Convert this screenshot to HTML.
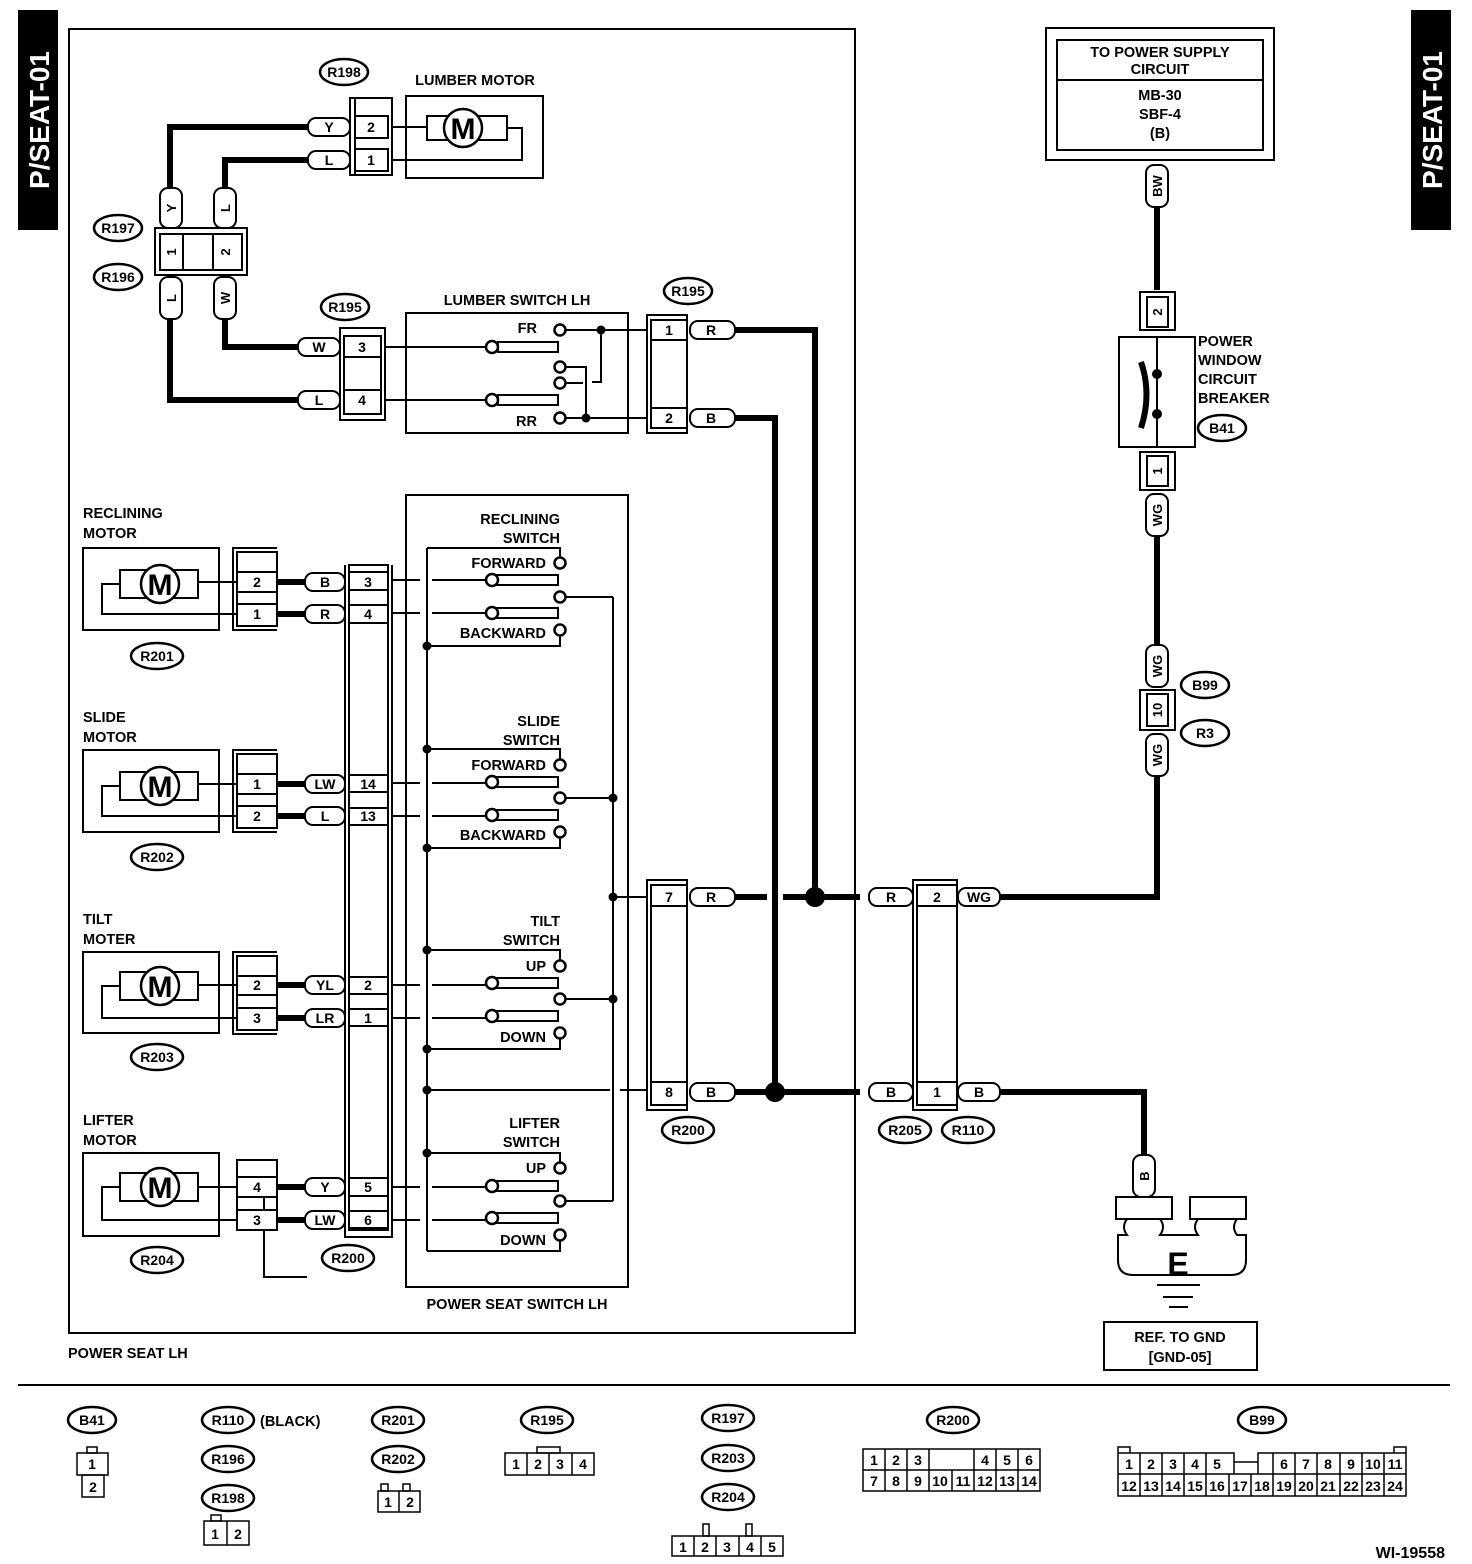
<!DOCTYPE html>
<html><head><meta charset="utf-8"><style>
html,body{margin:0;padding:0;background:#fff}
svg{display:block}
text{font-family:"Liberation Sans",Arial,sans-serif;font-weight:bold;fill:#000}
</style></head><body>
<svg width="1472" height="1564" viewBox="0 0 1472 1564" xmlns="http://www.w3.org/2000/svg">
<g fill="none" stroke="#000" stroke-width="2">
<rect x="69" y="29" width="786" height="1304"/>
<line x1="18" y1="1385" x2="1450" y2="1385"/>
<rect x="1046" y="28" width="228" height="132"/>
<rect x="1057" y="40" width="206" height="110"/>
<line x1="1057" y1="80" x2="1263" y2="80"/>
<rect x="406" y="96" width="137" height="82"/>
<rect x="427" y="116" width="80" height="24"/>
<circle cx="463" cy="128" r="19" fill="#fff" stroke-width="2.5"/>
<polyline points="392,127 427,127"/>
<polyline points="507,128 522,128 522,160 392,160"/>
<rect x="350" y="98" width="42" height="77"/>
<line x1="355" y1="98" x2="355" y2="175"/>
<rect x="355" y="116" width="33" height="22"/>
<rect x="355" y="149" width="33" height="22"/>
<rect x="155" y="228" width="92" height="47"/>
<rect x="160" y="234" width="82" height="36"/>
<line x1="183" y1="234" x2="183" y2="270"/><line x1="213" y1="234" x2="213" y2="270"/>
<rect x="340" y="328" width="45" height="92"/>
<rect x="344" y="336" width="37" height="78"/>
<line x1="344" y1="357" x2="381" y2="357"/><line x1="344" y1="390" x2="381" y2="390"/>
<rect x="406" y="313" width="222" height="120"/>
<line x1="385" y1="347" x2="487" y2="347"/>
<line x1="385" y1="400" x2="487" y2="400"/>
<rect x="498" y="342" width="60" height="10"/>
<rect x="498" y="395" width="60" height="10"/>
<polyline points="565,330 647,330"/>
<polyline points="565,418 647,418"/>
<polyline points="601,330 601,382 592,382"/>
<polyline points="565,383 583,383"/>
<polyline points="565,367 586,367 586,418"/>
<rect x="647" y="315" width="40" height="118"/>
<rect x="651" y="320" width="36" height="108"/>
<line x1="651" y1="340" x2="687" y2="340"/><line x1="651" y1="408" x2="687" y2="408"/>
<rect x="406" y="495" width="222" height="792"/>
<line x1="427" y1="548" x2="427" y2="1251"/>
<line x1="613" y1="597" x2="613" y2="1201"/>
<line x1="427" y1="1090" x2="610" y2="1090"/><line x1="620" y1="1090" x2="647" y2="1090"/>
<line x1="613" y1="897" x2="647" y2="897"/>
<rect x="349" y="565" width="39" height="665"/>
<polyline points="345,565 345,1237 392,1237 392,565"/>
<path d="M349,572h39M349,590h39M349,605h39M349,623h39M349,775h39M349,792h39M349,808h39M349,825h39M349,977h39M349,994h39M349,1009h39M349,1026h39M349,1178h39M349,1196h39M349,1211h39M349,1228h39"/>
<rect x="647" y="880" width="40" height="230"/>
<rect x="651" y="885" width="36" height="220"/>
<line x1="651" y1="906" x2="687" y2="906"/><line x1="651" y1="1082" x2="687" y2="1082"/>
<rect x="913" y="880" width="44" height="230"/>
<rect x="917" y="885" width="40" height="220"/>
<line x1="917" y1="906" x2="957" y2="906"/><line x1="917" y1="1082" x2="957" y2="1082"/>
<rect x="83" y="548" width="136" height="82"/>
<rect x="83" y="750" width="136" height="82"/>
<rect x="83" y="952" width="136" height="81"/>
<rect x="83" y="1153" width="136" height="83"/>
<rect x="120" y="570" width="78" height="28"/><rect x="120" y="772" width="78" height="28"/>
<rect x="120" y="972" width="78" height="28"/><rect x="120" y="1173" width="78" height="28"/>
<polyline points="198,582 237,582"/><polyline points="120,584 102,584 102,614 237,614"/>
<polyline points="198,784 237,784"/><polyline points="120,786 102,786 102,816 237,816"/>
<polyline points="198,985 237,985"/><polyline points="120,986 102,986 102,1018 237,1018"/>
<polyline points="198,1187 237,1187"/><polyline points="120,1187 102,1187 102,1220 237,1220"/>
<circle cx="160" cy="584" r="19" fill="#fff" stroke-width="2.5"/>
<circle cx="160" cy="786" r="19" fill="#fff" stroke-width="2.5"/>
<circle cx="160" cy="986" r="19" fill="#fff" stroke-width="2.5"/>
<circle cx="160" cy="1187" r="19" fill="#fff" stroke-width="2.5"/>
<polyline points="277,548 233,548 233,630 277,630"/><rect x="237" y="552" width="40" height="74"/>
<line x1="237" y1="572" x2="277" y2="572"/><line x1="237" y1="592" x2="277" y2="592"/><line x1="237" y1="604" x2="277" y2="604"/>
<polyline points="277,750 233,750 233,832 277,832"/><rect x="237" y="754" width="40" height="74"/>
<line x1="237" y1="774" x2="277" y2="774"/><line x1="237" y1="794" x2="277" y2="794"/><line x1="237" y1="806" x2="277" y2="806"/>
<polyline points="277,952 233,952 233,1034 277,1034"/><rect x="237" y="956" width="40" height="74"/>
<line x1="237" y1="976" x2="277" y2="976"/><line x1="237" y1="995" x2="277" y2="995"/><line x1="237" y1="1008" x2="277" y2="1008"/>
<rect x="237" y="1160" width="40" height="70"/>
<line x1="237" y1="1177" x2="277" y2="1177"/><line x1="237" y1="1197" x2="277" y2="1197"/><line x1="237" y1="1210" x2="277" y2="1210"/>
<line x1="264" y1="1197" x2="264" y2="1210"/>
<polyline points="264,1230 264,1277 307,1277"/>
<rect x="1140" y="292" width="35" height="38"/><rect x="1147" y="297" width="21" height="30"/>
<rect x="1119" y="337" width="76" height="110"/>
<line x1="1157" y1="337" x2="1157" y2="447"/>
<rect x="1140" y="452" width="35" height="38"/><rect x="1147" y="456" width="21" height="30"/>
<rect x="1140" y="690" width="35" height="40" fill="#fff"/><rect x="1147" y="694" width="21" height="32"/>
<rect x="1116" y="1197" width="56" height="22"/>
<rect x="1190" y="1197" width="56" height="22"/>
<path d="M1127,1219 q-6,8 0,16 l-9,0 0,25 q0,15 15,15 l98,0 q15,0 15,-15 l0,-25 -9,0 q-6,-8 0,-16 M1160,1219 q6,8 0,16 l38,0 q-6,-8 0,-16"/>
<line x1="1157" y1="1285" x2="1200" y2="1285"/>
<line x1="1163" y1="1297" x2="1193" y2="1297"/>
<line x1="1169" y1="1307" x2="1188" y2="1307"/>
<rect x="1104" y="1322" width="153" height="48"/>
</g>
<g fill="none" stroke="#000" stroke-width="6">
<polyline points="308,127 170,127 170,190"/>
<polyline points="308,160 225,160 225,190"/>
<polyline points="298,347 225,347 225,318"/>
<polyline points="298,400 170,400 170,318"/>
<polyline points="735,330 815,330 815,897"/>
<polyline points="735,418 775,418 775,1092"/>
<line x1="735" y1="897" x2="767" y2="897"/>
<line x1="783" y1="897" x2="860" y2="897"/>
<line x1="735" y1="1092" x2="860" y2="1092"/>
<polyline points="998,897 1157,897 1157,772"/>
<line x1="1157" y1="650" x2="1157" y2="530"/>
<line x1="1157" y1="290" x2="1157" y2="200"/>
<polyline points="998,1092 1144,1092 1144,1160"/>
<line x1="277" y1="582" x2="308" y2="582"/><line x1="277" y1="614" x2="308" y2="614"/>
<line x1="277" y1="784" x2="308" y2="784"/><line x1="277" y1="816" x2="308" y2="816"/>
<line x1="277" y1="985" x2="308" y2="985"/><line x1="277" y1="1018" x2="308" y2="1018"/>
<line x1="277" y1="1187" x2="308" y2="1187"/><line x1="277" y1="1220" x2="308" y2="1220"/>
</g>
<line x1="855" y1="880" x2="855" y2="1110" stroke="#000" stroke-width="2"/>
<g fill="#000"><circle cx="815" cy="897" r="10"/><circle cx="775" cy="1092" r="10"/></g>
<path d="M1141,362 Q1152,394 1141,428" fill="none" stroke="#000" stroke-width="6"/>
<circle cx="1157" cy="374" r="5"/><circle cx="1157" cy="414" r="5"/>
<g fill="none" stroke="#000" stroke-width="2">
<polyline points="427,548 560,548 560,558"/><polyline points="560,635 560,646 427,646"/>
<line x1="392" y1="580" x2="420" y2="580"/><line x1="432" y1="580" x2="487" y2="580"/>
<line x1="392" y1="613" x2="420" y2="613"/><line x1="432" y1="613" x2="487" y2="613"/>
<rect x="497" y="575" width="61" height="10"/><rect x="497" y="608" width="61" height="10"/>
<polyline points="565,597 613,597"/>
<polyline points="427,749 560,749 560,760"/><polyline points="560,837 560,848 427,848"/>
<line x1="392" y1="783" x2="420" y2="783"/><line x1="432" y1="783" x2="487" y2="783"/>
<line x1="392" y1="816" x2="420" y2="816"/><line x1="432" y1="816" x2="487" y2="816"/>
<rect x="497" y="777" width="61" height="10"/><rect x="497" y="810" width="61" height="10"/>
<polyline points="565,798 613,798"/>
<polyline points="427,950 560,950 560,961"/><polyline points="560,1038 560,1049 427,1049"/>
<line x1="392" y1="985" x2="420" y2="985"/><line x1="432" y1="985" x2="487" y2="985"/>
<line x1="392" y1="1018" x2="420" y2="1018"/><line x1="432" y1="1018" x2="487" y2="1018"/>
<rect x="497" y="978" width="61" height="10"/><rect x="497" y="1011" width="61" height="10"/>
<polyline points="565,999 613,999"/>
<polyline points="427,1153 560,1153 560,1163"/><polyline points="560,1240 560,1251 427,1251"/>
<line x1="392" y1="1187" x2="420" y2="1187"/><line x1="432" y1="1187" x2="487" y2="1187"/>
<line x1="392" y1="1220" x2="420" y2="1220"/><line x1="432" y1="1220" x2="487" y2="1220"/>
<rect x="497" y="1181" width="61" height="10"/><rect x="497" y="1213" width="61" height="10"/>
<polyline points="565,1201 613,1201"/>
</g>
<g fill="#fff" stroke="#000" stroke-width="2.5">
<circle cx="560" cy="330" r="5.5"/><circle cx="560" cy="367" r="5.5"/><circle cx="560" cy="383" r="5.5"/><circle cx="560" cy="418" r="5.5"/>
<circle cx="492" cy="347" r="6"/><circle cx="492" cy="400" r="6"/>
<circle cx="560" cy="563" r="5.5"/><circle cx="560" cy="597" r="5.5"/><circle cx="560" cy="630" r="5.5"/><circle cx="492" cy="580" r="6"/><circle cx="492" cy="613" r="6"/>
<circle cx="560" cy="765" r="5.5"/><circle cx="560" cy="798" r="5.5"/><circle cx="560" cy="832" r="5.5"/><circle cx="492" cy="782" r="6"/><circle cx="492" cy="815" r="6"/>
<circle cx="560" cy="966" r="5.5"/><circle cx="560" cy="999" r="5.5"/><circle cx="560" cy="1033" r="5.5"/><circle cx="492" cy="983" r="6"/><circle cx="492" cy="1016" r="6"/>
<circle cx="560" cy="1168" r="5.5"/><circle cx="560" cy="1201" r="5.5"/><circle cx="560" cy="1235" r="5.5"/><circle cx="492" cy="1186" r="6"/><circle cx="492" cy="1218" r="6"/>
</g>
<g fill="#000">
<circle cx="601" cy="330" r="4.5"/><circle cx="586" cy="418" r="4.5"/>
<circle cx="427" cy="646" r="4.5"/><circle cx="427" cy="749" r="4.5"/><circle cx="427" cy="848" r="4.5"/>
<circle cx="427" cy="950" r="4.5"/><circle cx="427" cy="1049" r="4.5"/><circle cx="427" cy="1090" r="4.5"/><circle cx="427" cy="1153" r="4.5"/>
<circle cx="613" cy="798" r="4.5"/><circle cx="613" cy="897" r="4.5"/><circle cx="613" cy="999" r="4.5"/>
</g>
<g fill="#fff" stroke="#000" stroke-width="2">
<rect x="308" y="118" width="42" height="18" rx="8"/><rect x="308" y="151" width="42" height="18" rx="8"/>
<rect x="160" y="188" width="22" height="40" rx="8"/><rect x="214" y="188" width="22" height="40" rx="8"/>
<rect x="160" y="277" width="22" height="42" rx="8"/><rect x="214" y="277" width="22" height="42" rx="8"/>
<rect x="298" y="338" width="42" height="18" rx="8"/><rect x="298" y="391" width="42" height="18" rx="8"/>
<rect x="690" y="321" width="45" height="18" rx="8"/><rect x="690" y="409" width="45" height="18" rx="8"/>
<rect x="305" y="573" width="40" height="18" rx="8"/><rect x="305" y="605" width="40" height="18" rx="8"/>
<rect x="305" y="775" width="40" height="18" rx="8"/><rect x="305" y="807" width="40" height="18" rx="8"/>
<rect x="305" y="976" width="40" height="18" rx="8"/><rect x="305" y="1009" width="40" height="18" rx="8"/>
<rect x="305" y="1178" width="40" height="18" rx="8"/><rect x="305" y="1211" width="40" height="18" rx="8"/>
<rect x="690" y="888" width="45" height="18" rx="8"/><rect x="690" y="1083" width="45" height="18" rx="8"/>
<rect x="869" y="888" width="44" height="18" rx="8"/><rect x="869" y="1083" width="44" height="18" rx="8"/>
<rect x="958" y="888" width="42" height="18" rx="8"/><rect x="958" y="1083" width="42" height="18" rx="8"/>
<rect x="1146" y="165" width="22" height="42" rx="8"/>
<rect x="1146" y="494" width="22" height="42" rx="8"/>
<rect x="1146" y="645" width="22" height="42" rx="8"/>
<rect x="1146" y="734" width="22" height="42" rx="8"/>
<rect x="1133" y="1155" width="22" height="42" rx="8"/>
</g>
<g fill="#fff" stroke="#000" stroke-width="2.5">
<ellipse cx="344" cy="72" rx="24" ry="13"/><ellipse cx="118" cy="228" rx="24" ry="13"/><ellipse cx="118" cy="277" rx="24" ry="13"/>
<ellipse cx="345" cy="307" rx="24" ry="13"/><ellipse cx="688" cy="291" rx="24" ry="13"/>
<ellipse cx="157" cy="656" rx="26" ry="13"/><ellipse cx="157" cy="857" rx="26" ry="13"/><ellipse cx="157" cy="1057" rx="26" ry="13"/><ellipse cx="157" cy="1260" rx="26" ry="13"/>
<ellipse cx="348" cy="1258" rx="26" ry="13"/><ellipse cx="688" cy="1130" rx="26" ry="13"/>
<ellipse cx="905" cy="1130" rx="26" ry="13"/><ellipse cx="968" cy="1130" rx="26" ry="13"/>
<ellipse cx="1222" cy="428" rx="24" ry="13"/><ellipse cx="1205" cy="685" rx="24" ry="13"/><ellipse cx="1205" cy="733" rx="24" ry="13"/>
<ellipse cx="92" cy="1420" rx="24" ry="13"/><ellipse cx="228" cy="1420" rx="26" ry="13"/><ellipse cx="228" cy="1459" rx="26" ry="13"/><ellipse cx="228" cy="1498" rx="26" ry="13"/>
<ellipse cx="398" cy="1420" rx="26" ry="13"/><ellipse cx="398" cy="1459" rx="26" ry="13"/><ellipse cx="547" cy="1420" rx="26" ry="13"/>
<ellipse cx="728" cy="1418" rx="26" ry="13"/><ellipse cx="728" cy="1458" rx="26" ry="13"/><ellipse cx="728" cy="1497" rx="26" ry="13"/>
<ellipse cx="953" cy="1420" rx="26" ry="13"/><ellipse cx="1262" cy="1420" rx="24" ry="13"/>
</g>
<g fill="none" stroke="#000" stroke-width="1.5">
<rect x="87" y="1447" width="10" height="6"/><rect x="77" y="1453" width="31" height="22"/><rect x="82" y="1475" width="22" height="22"/>
<rect x="211" y="1515" width="10" height="6"/><rect x="204" y="1521" width="45" height="24"/><line x1="227" y1="1521" x2="227" y2="1545"/>
<rect x="381" y="1484" width="7" height="7"/><rect x="403" y="1484" width="7" height="7"/><rect x="378" y="1491" width="42" height="21"/><line x1="399" y1="1491" x2="399" y2="1512"/>
<rect x="537" y="1447" width="23" height="6"/><rect x="505" y="1453" width="89" height="22"/><line x1="527" y1="1453" x2="527" y2="1475"/><line x1="549" y1="1453" x2="549" y2="1475"/><line x1="572" y1="1453" x2="572" y2="1475"/>
<rect x="703" y="1524" width="6" height="12"/><rect x="746" y="1524" width="6" height="12"/><rect x="672" y="1536" width="111" height="20"/>
<line x1="694" y1="1536" x2="694" y2="1556"/><line x1="716" y1="1536" x2="716" y2="1556"/><line x1="739" y1="1536" x2="739" y2="1556"/><line x1="761" y1="1536" x2="761" y2="1556"/>
<rect x="863" y="1449" width="177" height="42"/><line x1="863" y1="1470" x2="1040" y2="1470"/>
<path d="M885,1449v42M907,1449v42M929,1449v42M952,1470v21M974,1449v42M996,1449v42M1018,1449v42"/>
<path d="M1118,1474h116M1258,1474h148M1229,1474h34M1118,1453h116v21M1258,1474v-21h148M1118,1453v43h288v-43M1234,1474v-12h24v12"/>
<path d="M1118,1453v-6h12v6M1394,1453v-6h12v6"/>
<path d="M1140,1453v43M1162,1453v43M1184,1453v43M1206,1453v43M1229,1474v22M1251,1474v22M1273,1453v43M1295,1453v43M1317,1453v43M1340,1453v43M1362,1453v43M1384,1453v43"/>
</g>
<rect x="18" y="10" width="40" height="220" fill="#000"/>
<rect x="1411" y="10" width="40" height="220" fill="#000"/>
<text transform="translate(49,120) rotate(-90)" text-anchor="middle" font-size="28" style="fill:#fff">P/SEAT-01</text>
<text transform="translate(1442,120) rotate(-90)" text-anchor="middle" font-size="28" style="fill:#fff">P/SEAT-01</text>
<g font-size="30" text-anchor="middle">
<text x="463" y="139">M</text><text x="160" y="595">M</text><text x="160" y="797">M</text><text x="160" y="997">M</text><text x="160" y="1198">M</text>
<text x="1178" y="1275" font-size="32">E</text>
</g>
<g font-size="14.5" text-anchor="middle">
<text x="1160" y="57">TO POWER SUPPLY</text><text x="1160" y="74">CIRCUIT</text>
<text x="1160" y="100">MB-30</text><text x="1160" y="119">SBF-4</text><text x="1160" y="138">(B)</text>
<text x="475" y="85">LUMBER MOTOR</text>
<text x="517" y="305">LUMBER SWITCH LH</text>
<text x="517" y="1309">POWER SEAT SWITCH LH</text>
<text x="1180" y="1342">REF. TO GND</text><text x="1180" y="1362">[GND-05]</text>
</g>
<g font-size="14.5">
<text x="68" y="1358">POWER SEAT LH</text>
<text x="83" y="518">RECLINING</text><text x="83" y="538">MOTOR</text>
<text x="83" y="722">SLIDE</text><text x="83" y="742">MOTOR</text>
<text x="83" y="924">TILT</text><text x="83" y="944">MOTER</text>
<text x="83" y="1125">LIFTER</text><text x="83" y="1145">MOTOR</text>
<text x="1198" y="346">POWER</text><text x="1198" y="365">WINDOW</text><text x="1198" y="384">CIRCUIT</text><text x="1198" y="403">BREAKER</text>
<text x="260" y="1426">(BLACK)</text>
</g>
<g font-size="14.5" text-anchor="end">
<text x="560" y="524">RECLINING</text><text x="560" y="543">SWITCH</text>
<text x="560" y="726">SLIDE</text><text x="560" y="745">SWITCH</text>
<text x="560" y="926">TILT</text><text x="560" y="945">SWITCH</text>
<text x="560" y="1128">LIFTER</text><text x="560" y="1147">SWITCH</text>
<text x="546" y="568">FORWARD</text><text x="546" y="638">BACKWARD</text>
<text x="546" y="770">FORWARD</text><text x="546" y="840">BACKWARD</text>
<text x="546" y="971">UP</text><text x="546" y="1042">DOWN</text>
<text x="546" y="1173">UP</text><text x="546" y="1245">DOWN</text>
<text x="537" y="333">FR</text><text x="537" y="426">RR</text>
<text x="1445" y="1558" font-weight="normal" font-size="16">WI-19558</text>
</g>
<g font-size="14" text-anchor="middle">
<text x="329" y="132">Y</text><text x="329" y="165">L</text><text x="371" y="132">2</text><text x="371" y="165">1</text>
<text x="319" y="352">W</text><text x="319" y="405">L</text><text x="362" y="352">3</text><text x="362" y="405">4</text>
<text x="669" y="335">1</text><text x="669" y="423">2</text><text x="711" y="335">R</text><text x="711" y="423">B</text>
<text x="257" y="587">2</text><text x="257" y="619">1</text><text x="325" y="587">B</text><text x="325" y="619">R</text><text x="368" y="587">3</text><text x="368" y="619">4</text>
<text x="257" y="789">1</text><text x="257" y="821">2</text><text x="325" y="789">LW</text><text x="325" y="821">L</text><text x="368" y="789">14</text><text x="368" y="821">13</text>
<text x="257" y="990">2</text><text x="257" y="1023">3</text><text x="325" y="990">YL</text><text x="325" y="1023">LR</text><text x="368" y="990">2</text><text x="368" y="1023">1</text>
<text x="257" y="1192">4</text><text x="257" y="1225">3</text><text x="325" y="1192">Y</text><text x="325" y="1225">LW</text><text x="368" y="1192">5</text><text x="368" y="1225">6</text>
<text x="669" y="902">7</text><text x="669" y="1097">8</text><text x="711" y="902">R</text><text x="711" y="1097">B</text>
<text x="891" y="902">R</text><text x="891" y="1097">B</text><text x="937" y="902">2</text><text x="937" y="1097">1</text>
<text x="979" y="902">WG</text><text x="979" y="1097">B</text>
<text x="344" y="77">R198</text><text x="118" y="233">R197</text><text x="118" y="282">R196</text>
<text x="345" y="312">R195</text><text x="688" y="296">R195</text>
<text x="157" y="661">R201</text><text x="157" y="862">R202</text><text x="157" y="1062">R203</text><text x="157" y="1265">R204</text>
<text x="348" y="1263">R200</text><text x="688" y="1135">R200</text><text x="905" y="1135">R205</text><text x="968" y="1135">R110</text>
<text x="1222" y="433">B41</text><text x="1205" y="690">B99</text><text x="1205" y="738">R3</text>
<text x="92" y="1425">B41</text><text x="228" y="1425">R110</text><text x="228" y="1464">R196</text><text x="228" y="1503">R198</text>
<text x="398" y="1425">R201</text><text x="398" y="1464">R202</text><text x="547" y="1425">R195</text>
<text x="728" y="1423">R197</text><text x="728" y="1463">R203</text><text x="728" y="1502">R204</text>
<text x="953" y="1425">R200</text><text x="1262" y="1425">B99</text>
</g>
<g font-size="13" text-anchor="middle">
<text transform="translate(176,208) rotate(-90)">Y</text><text transform="translate(230,208) rotate(-90)">L</text>
<text transform="translate(176,252) rotate(-90)">1</text><text transform="translate(230,252) rotate(-90)">2</text>
<text transform="translate(176,298) rotate(-90)">L</text><text transform="translate(230,298) rotate(-90)">W</text>
<text transform="translate(1162,186) rotate(-90)">BW</text>
<text transform="translate(1162,312) rotate(-90)">2</text>
<text transform="translate(1162,471) rotate(-90)">1</text>
<text transform="translate(1162,515) rotate(-90)">WG</text>
<text transform="translate(1162,666) rotate(-90)">WG</text>
<text transform="translate(1162,710) rotate(-90)">10</text>
<text transform="translate(1162,755) rotate(-90)">WG</text>
<text transform="translate(1149,1176) rotate(-90)">B</text>
</g>
<g font-size="14" text-anchor="middle" style="font-weight:normal">
<text x="92" y="1469">1</text><text x="93" y="1492">2</text>
<text x="215" y="1539">1</text><text x="238" y="1539">2</text>
<text x="388" y="1507">1</text><text x="410" y="1507">2</text>
<text x="516" y="1469">1</text><text x="538" y="1469">2</text><text x="560" y="1469">3</text><text x="583" y="1469">4</text>
<text x="683" y="1552">1</text><text x="705" y="1552">2</text><text x="727" y="1552">3</text><text x="750" y="1552">4</text><text x="772" y="1552">5</text>
<text x="874" y="1465">1</text><text x="896" y="1465">2</text><text x="918" y="1465">3</text><text x="985" y="1465">4</text><text x="1007" y="1465">5</text><text x="1029" y="1465">6</text>
<text x="874" y="1486">7</text><text x="896" y="1486">8</text><text x="918" y="1486">9</text><text x="940" y="1486">10</text><text x="963" y="1486">11</text><text x="985" y="1486">12</text><text x="1007" y="1486">13</text><text x="1029" y="1486">14</text>
<text x="1129" y="1469">1</text><text x="1151" y="1469">2</text><text x="1173" y="1469">3</text><text x="1195" y="1469">4</text><text x="1217" y="1469">5</text>
<text x="1284" y="1469">6</text><text x="1306" y="1469">7</text><text x="1328" y="1469">8</text><text x="1351" y="1469">9</text><text x="1373" y="1469">10</text><text x="1395" y="1469">11</text>
<text x="1129" y="1491">12</text><text x="1151" y="1491">13</text><text x="1173" y="1491">14</text><text x="1195" y="1491">15</text><text x="1217" y="1491">16</text><text x="1240" y="1491">17</text><text x="1262" y="1491">18</text><text x="1284" y="1491">19</text><text x="1306" y="1491">20</text><text x="1328" y="1491">21</text><text x="1351" y="1491">22</text><text x="1373" y="1491">23</text><text x="1395" y="1491">24</text>
</g>
</svg>
</body></html>
